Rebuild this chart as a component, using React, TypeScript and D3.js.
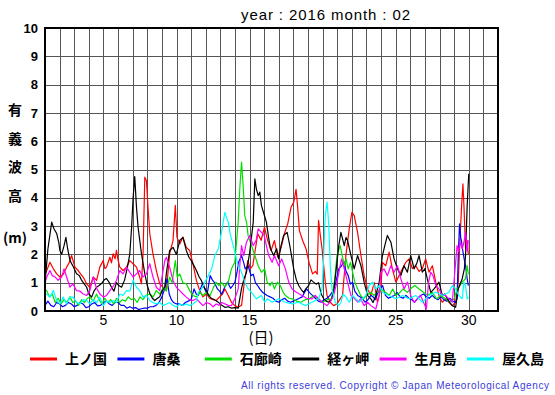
import React from 'react';
import * as d3 from 'd3';

type P = [number, number];

const titleText = 'year : 2016   month : 02';
const xTickValues = [5, 10, 15, 20, 25, 30];
const yTickValues = [0, 1, 2, 3, 4, 5, 6, 7, 8, 9, 10];
const yTitleChars = ['有', '義', '波', '高', '(m)'];
const xTitle = '(日)';
const footerText = 'All rights reserved. Copyright © Japan Meteorological Agency';
const stationNames = ['上ノ国', '唐桑', '石廊崎', '経ヶ岬', '生月島', '屋久島'];
const stationColors = ['#ff0000', '#0000ff', '#00e000', '#000000', '#ff00ff', '#00ffff'];

const kaminokuni: P[] = [[1.0,1.3],[1.12,1.43],[1.34,1.72],[1.57,1.49],[1.8,1.31],[2.02,1.2],[2.25,1.3],[2.48,1.55],[2.65,1.7],[2.82,1.96],[3.05,1.55],[3.27,1.43],[3.45,1.3],[3.61,1.2],[3.85,0.96],[4.07,0.84],[4.3,1.2],[4.53,1.08],[4.75,1.55],[4.98,1.78],[5.1,1.5],[5.21,1.55],[5.44,1.9],[5.55,1.7],[5.66,2.02],[5.8,1.85],[5.89,2.14],[6.0,1.8],[6.12,1.55],[6.34,1.43],[6.58,1.55],[6.8,1.78],[7.03,1.67],[7.26,1.55],[7.48,1.2],[7.6,0.96],[7.71,2.02],[7.83,4.73],[7.94,4.6],[8.05,3.67],[8.17,2.73],[8.39,2.02],[8.62,1.43],[8.85,0.96],[9.08,0.84],[9.31,0.73],[9.53,2.02],[9.76,2.49],[9.92,3.73],[10.03,2.61],[10.22,2.37],[10.44,2.61],[10.67,2.25],[10.9,2.14],[11.12,1.67],[11.36,1.08],[11.58,0.73],[11.81,0.5],[12.05,0.6],[12.26,0.45],[12.5,0.4],[12.72,0.37],[12.95,0.5],[13.15,0.6],[13.31,0.78],[13.54,0.55],[13.76,0.31],[13.99,0.19],[14.22,0.13],[14.45,0.2],[14.66,1.08],[14.88,1.78],[15.05,1.5],[15.22,1.6],[15.4,2.2],[15.56,2.73],[15.79,2.5],[16.02,2.96],[16.24,2.49],[16.47,2.14],[16.7,2.49],[16.93,1.9],[17.16,2.25],[17.38,2.73],[17.61,3.08],[17.84,3.67],[18.02,3.84],[18.18,4.3],[18.29,3.67],[18.41,2.84],[18.63,2.49],[18.86,2.2],[19.09,1.67],[19.31,1.31],[19.5,1.4],[19.63,1.3],[19.72,3.2],[19.84,2.67],[19.96,2.2],[20.07,1.6],[20.18,1.02],[20.3,0.55],[20.52,0.31],[20.75,0.19],[20.98,0.25],[21.2,0.43],[21.36,0.55],[21.59,1.96],[21.82,2.9],[22.0,3.49],[22.16,3.37],[22.39,2.78],[22.62,1.96],[22.84,1.25],[23.07,0.78],[23.3,0.55],[23.53,1.0],[23.75,0.31],[23.98,0.78],[24.09,1.72],[24.32,1.6],[24.55,2.08],[24.77,1.49],[25.01,1.02],[25.23,1.25],[25.46,1.49],[25.69,1.72],[25.91,1.84],[26.14,1.5],[26.37,1.6],[26.6,1.4],[26.82,1.5],[27.05,1.84],[27.28,1.37],[27.51,1.6],[27.74,1.02],[27.96,0.55],[28.19,0.31],[28.42,0.43],[28.65,0.31],[28.87,0.19],[29.1,0.31],[29.28,1.02],[29.37,2.2],[29.51,3.73],[29.6,4.49],[29.67,3.73],[29.78,2.2],[29.89,2.5],[29.97,2.0]];

const karakuwa: P[] = [[1.0,0.2],[1.2,0.35],[1.4,0.2],[1.6,0.15],[1.8,0.3],[2.0,0.25],[2.2,0.15],[2.4,0.2],[2.6,0.3],[2.8,0.25],[3.0,0.15],[3.2,0.2],[3.4,0.3],[3.6,0.25],[3.8,0.12],[4.0,0.15],[4.2,0.25],[4.4,0.3],[4.6,0.18],[4.8,0.2],[5.0,0.3],[5.2,0.35],[5.4,0.25],[5.6,0.2],[5.8,0.3],[6.0,0.3],[6.2,0.2],[6.4,0.2],[6.6,0.1],[6.8,0.15],[7.0,0.1],[7.2,0.12],[7.4,0.05],[7.6,0.08],[7.8,0.1],[8.0,0.1],[8.2,0.15],[8.4,0.15],[8.6,0.2],[8.8,0.3],[9.0,0.5],[9.2,0.8],[9.35,1.14],[9.5,0.6],[9.65,0.4],[9.8,0.3],[10.0,0.25],[10.2,0.25],[10.4,0.2],[10.6,0.3],[10.8,0.35],[11.0,0.4],[11.2,0.78],[11.35,0.6],[11.5,0.55],[11.65,0.8],[11.8,1.0],[11.95,0.75],[12.1,0.6],[12.3,1.25],[12.45,1.1],[12.6,1.0],[12.8,0.78],[12.95,0.7],[13.1,0.6],[13.3,0.85],[13.5,1.02],[13.7,0.8],[13.85,0.9],[14.0,1.02],[14.15,1.4],[14.25,1.72],[14.45,1.96],[14.6,1.7],[14.7,1.49],[14.9,1.6],[15.1,1.25],[15.25,1.3],[15.4,1.0],[15.55,0.9],[15.7,0.78],[15.9,0.65],[16.05,0.6],[16.2,0.55],[16.4,0.5],[16.6,0.45],[16.8,0.35],[17.0,0.31],[17.2,0.4],[17.4,0.45],[17.6,0.35],[17.8,0.31],[18.0,0.35],[18.2,0.4],[18.4,0.45],[18.6,0.5],[18.75,0.65],[18.9,0.78],[19.1,0.65],[19.3,0.55],[19.5,0.45],[19.7,0.35],[19.9,0.31],[20.1,0.4],[20.3,0.45],[20.5,0.55],[20.7,0.7],[20.9,1.0],[21.1,1.49],[21.3,1.6],[21.45,1.75],[21.6,1.4],[21.75,1.25],[21.9,0.95],[22.05,1.02],[22.2,0.7],[22.4,0.55],[22.55,0.5],[22.7,0.45],[22.9,0.31],[23.1,0.4],[23.3,0.55],[23.45,0.5],[23.6,0.4],[23.75,0.6],[23.9,0.78],[24.1,0.9],[24.3,0.55],[24.5,0.45],[24.7,0.5],[24.9,0.55],[25.1,0.65],[25.3,0.5],[25.5,0.45],[25.7,0.55],[25.9,0.45],[26.1,0.4],[26.3,0.31],[26.5,0.45],[26.7,0.55],[26.9,0.6],[27.1,0.5],[27.3,0.45],[27.5,0.55],[27.7,0.45],[27.9,0.4],[28.1,0.5],[28.3,0.4],[28.5,0.35],[28.7,0.45],[28.9,0.35],[29.1,0.3],[29.2,0.45],[29.28,1.96],[29.37,3.08],[29.45,2.6],[29.51,2.43],[29.6,2.1],[29.7,1.8],[29.78,1.6],[29.89,1.14],[29.97,0.9]];

const irozaki: P[] = [[1.0,0.72],[1.12,0.72],[1.3,0.5],[1.5,0.6],[1.7,0.3],[1.9,0.45],[2.1,0.25],[2.3,0.4],[2.5,0.3],[2.7,0.5],[2.9,0.3],[3.1,0.35],[3.3,0.2],[3.5,0.4],[3.7,0.3],[3.9,0.45],[4.07,0.49],[4.3,0.35],[4.53,0.6],[4.7,0.4],[4.9,0.25],[5.1,0.45],[5.3,0.3],[5.5,0.4],[5.7,0.25],[5.9,0.45],[6.1,0.3],[6.3,0.4],[6.5,0.35],[6.7,0.5],[6.9,0.4],[7.1,0.45],[7.3,0.3],[7.5,0.5],[7.7,0.4],[7.9,0.55],[8.17,0.6],[8.4,0.5],[8.62,0.72],[8.85,0.6],[9.1,0.84],[9.3,0.7],[9.53,1.2],[9.7,1.0],[9.92,1.78],[10.05,1.2],[10.22,1.31],[10.44,1.0],[10.67,0.96],[10.9,0.72],[11.12,0.55],[11.36,0.5],[11.6,0.66],[11.8,0.55],[12.04,0.66],[12.3,0.55],[12.5,0.8],[12.7,1.02],[12.9,0.9],[13.1,1.0],[13.3,0.85],[13.54,1.02],[13.76,1.49],[13.99,1.72],[14.22,3.14],[14.33,4.32],[14.45,5.26],[14.56,4.43],[14.67,3.37],[14.79,3.14],[14.9,2.67],[15.13,2.31],[15.36,1.96],[15.59,1.6],[15.81,1.37],[16.04,1.49],[16.2,1.02],[16.4,0.9],[16.54,1.02],[16.7,0.78],[16.9,1.02],[17.1,0.9],[17.3,0.66],[17.45,0.55],[17.7,0.45],[17.91,0.43],[18.2,0.35],[18.5,0.31],[18.8,0.4],[19.1,0.43],[19.4,0.55],[19.7,0.43],[20.0,0.31],[20.3,0.4],[20.6,0.43],[20.8,1.0],[20.98,1.96],[21.2,2.31],[21.36,1.9],[21.5,1.6],[21.6,1.84],[21.75,1.49],[21.9,1.72],[22.05,1.37],[22.2,1.02],[22.4,0.78],[22.6,0.55],[22.8,0.43],[23.0,0.55],[23.3,0.66],[23.5,0.55],[23.75,0.66],[24.0,0.78],[24.3,0.66],[24.55,0.55],[24.8,0.78],[25.0,0.55],[25.3,0.66],[25.5,0.78],[25.8,0.66],[26.0,0.78],[26.3,0.9],[26.6,0.78],[26.9,0.66],[27.2,0.55],[27.5,0.66],[27.8,0.43],[28.1,0.55],[28.4,0.43],[28.7,0.31],[29.0,0.43],[29.2,0.78],[29.4,0.9],[29.55,1.02],[29.78,1.14],[29.89,1.6],[29.97,1.3]];

const kyogamisaki: P[] = [[1.0,0.96],[1.2,2.2],[1.46,3.14],[1.62,2.9],[1.8,2.74],[1.95,2.4],[2.02,2.14],[2.14,2.0],[2.3,2.3],[2.43,2.6],[2.55,2.2],[2.71,1.78],[2.93,1.57],[3.16,1.32],[3.35,1.25],[3.51,1.08],[3.7,0.95],[3.85,0.84],[4.0,0.6],[4.19,0.49],[4.35,0.7],[4.53,0.84],[4.7,0.9],[4.87,0.97],[5.05,1.1],[5.21,1.15],[5.4,1.0],[5.55,0.84],[5.72,0.7],[5.89,1.0],[6.05,0.9],[6.24,0.84],[6.45,1.1],[6.62,1.5],[6.8,2.0],[6.92,2.9],[7.03,4.0],[7.14,4.75],[7.26,3.67],[7.37,2.96],[7.6,2.03],[7.83,1.32],[8.0,0.9],[8.17,0.62],[8.35,0.45],[8.51,0.37],[8.7,0.45],[8.85,0.5],[9.0,0.7],[9.19,0.84],[9.35,1.5],[9.53,2.14],[9.76,2.25],[9.99,2.0],[10.22,2.49],[10.44,2.6],[10.67,2.14],[10.85,1.9],[11.01,1.78],[11.2,1.6],[11.36,1.43],[11.55,1.2],[11.7,1.08],[11.87,0.85],[12.04,0.72],[12.2,0.55],[12.4,0.44],[12.6,0.4],[12.86,0.31],[13.1,0.2],[13.31,0.13],[13.55,0.15],[13.76,0.1],[14.0,0.12],[14.22,0.1],[14.45,0.8],[14.6,1.1],[14.79,1.37],[15.01,2.08],[15.25,3.14],[15.36,4.67],[15.47,4.3],[15.59,4.08],[15.7,4.2],[15.81,3.73],[16.0,3.4],[16.15,3.14],[16.3,2.6],[16.43,2.2],[16.65,1.96],[16.85,2.2],[16.99,1.84],[17.15,2.3],[17.33,2.67],[17.57,2.78],[17.68,2.5],[17.79,2.2],[18.02,1.49],[18.2,1.1],[18.36,0.9],[18.55,0.75],[18.7,0.66],[18.87,0.8],[19.04,0.9],[19.2,1.1],[19.38,1.02],[19.55,0.95],[19.72,1.0],[19.9,0.6],[20.07,0.43],[20.25,0.35],[20.41,0.31],[20.6,0.4],[20.75,0.66],[20.98,1.72],[21.1,2.3],[21.25,2.78],[21.48,2.31],[21.6,2.6],[21.7,2.5],[21.94,1.96],[22.16,1.49],[22.39,1.96],[22.62,1.6],[22.84,1.02],[23.07,0.55],[23.3,0.43],[23.45,0.3],[23.64,0.55],[23.87,1.02],[24.09,1.96],[24.25,2.3],[24.43,2.67],[24.67,2.43],[24.89,1.84],[25.12,1.49],[25.35,1.25],[25.57,1.6],[25.8,1.37],[26.03,1.96],[26.26,1.49],[26.45,1.7],[26.6,1.96],[26.82,1.37],[27.0,1.5],[27.16,1.14],[27.4,0.66],[27.62,0.78],[27.8,0.9],[27.96,1.02],[28.19,0.55],[28.35,0.6],[28.53,0.43],[28.7,0.3],[28.87,0.19],[29.1,0.13],[29.28,0.78],[29.55,1.14],[29.7,1.5],[29.78,1.96],[29.89,3.73],[30.0,4.85]];

const ikitsukishima: P[] = [[1.0,1.0],[1.12,1.2],[1.34,1.43],[1.5,1.25],[1.7,1.2],[1.9,1.08],[2.14,1.2],[2.3,1.49],[2.48,1.2],[2.71,0.84],[2.9,0.96],[3.16,0.72],[3.4,0.7],[3.61,0.6],[3.85,0.55],[4.07,0.72],[4.3,1.2],[4.5,0.84],[4.75,0.6],[5.0,0.49],[5.21,0.55],[5.44,0.72],[5.7,0.9],[5.89,1.08],[6.12,1.43],[6.34,1.31],[6.58,1.55],[6.8,1.37],[7.03,1.2],[7.26,1.31],[7.48,1.43],[7.7,1.2],[7.94,1.31],[8.17,1.67],[8.39,1.2],[8.62,0.84],[8.85,0.72],[9.08,1.43],[9.2,1.78],[9.31,1.9],[9.53,1.55],[9.76,1.08],[9.99,0.84],[10.22,0.72],[10.44,0.6],[10.67,0.49],[10.9,0.4],[11.12,0.37],[11.36,0.43],[11.6,0.3],[11.81,0.19],[12.04,0.3],[12.3,0.25],[12.5,0.15],[12.72,0.25],[12.9,0.2],[13.1,0.3],[13.31,0.25],[13.54,0.2],[13.76,0.19],[13.99,0.43],[14.22,0.78],[14.33,1.6],[14.45,2.31],[14.6,1.96],[14.79,2.43],[15.01,2.67],[15.25,2.31],[15.45,2.5],[15.59,2.9],[15.81,2.78],[16.0,2.67],[16.15,2.31],[16.31,1.96],[16.54,1.72],[16.7,1.96],[16.99,1.6],[17.2,1.84],[17.45,1.49],[17.68,1.02],[17.91,0.78],[18.2,0.66],[18.59,0.55],[18.9,0.45],[19.27,0.43],[19.5,0.55],[19.96,0.31],[20.3,0.19],[20.5,0.31],[20.75,0.55],[20.98,1.02],[21.2,1.6],[21.3,1.84],[21.48,1.49],[21.7,1.02],[21.94,0.55],[22.2,0.43],[22.4,0.31],[22.6,0.43],[22.84,0.19],[23.07,0.31],[23.3,0.19],[23.64,0.07],[23.87,0.55],[23.98,1.37],[24.2,1.49],[24.43,1.25],[24.67,1.6],[24.89,1.37],[25.12,1.6],[25.35,1.14],[25.57,0.78],[25.8,1.02],[26.03,0.55],[26.26,0.31],[26.5,0.43],[26.7,0.55],[26.9,0.31],[27.1,0.07],[27.25,1.02],[27.4,1.37],[27.55,1.25],[27.75,0.9],[27.96,0.78],[28.2,0.55],[28.4,0.55],[28.65,0.43],[28.87,0.31],[29.1,1.72],[29.2,2.31],[29.3,2.1],[29.4,2.43],[29.55,2.2],[29.67,2.43],[29.78,2.78],[29.89,2.1],[29.97,2.5]];

const yakushima: P[] = [[1.0,0.6],[1.12,0.6],[1.34,0.49],[1.57,0.72],[1.8,0.37],[2.02,0.25],[2.25,0.49],[2.48,0.25],[2.71,0.49],[2.93,0.49],[3.16,0.3],[3.39,0.25],[3.61,0.4],[3.85,0.37],[4.07,0.25],[4.3,0.4],[4.53,0.3],[4.75,0.49],[4.98,0.19],[5.21,0.35],[5.44,0.3],[5.66,0.37],[5.89,0.3],[6.12,0.6],[6.34,0.55],[6.58,0.72],[6.8,0.7],[7.03,1.08],[7.26,0.84],[7.48,0.72],[7.71,0.49],[7.94,0.55],[8.17,0.37],[8.39,0.3],[8.62,0.25],[8.85,0.3],[9.08,0.19],[9.31,0.25],[9.53,0.3],[9.76,0.2],[9.99,0.14],[10.22,0.25],[10.44,0.2],[10.67,0.25],[10.9,0.19],[11.12,0.25],[11.36,0.35],[11.49,0.66],[11.72,0.78],[11.94,1.02],[12.18,1.25],[12.4,1.49],[12.62,1.96],[12.86,2.2],[13.08,2.78],[13.31,3.49],[13.42,3.3],[13.54,3.14],[13.65,2.78],[13.76,2.55],[13.99,2.08],[14.22,1.6],[14.45,1.37],[14.67,1.02],[14.9,0.78],[15.13,0.66],[15.47,0.43],[15.81,0.55],[16.04,0.31],[16.23,0.43],[16.54,0.31],[16.99,0.43],[17.45,0.31],[17.91,0.25],[18.36,0.31],[18.82,0.19],[19.27,0.31],[19.72,0.43],[19.96,0.78],[20.07,1.96],[20.18,3.37],[20.3,3.85],[20.41,3.14],[20.52,1.6],[20.64,0.78],[20.86,0.31],[21.09,0.19],[21.25,0.3],[21.4,0.6],[21.59,0.5],[21.82,0.31],[22.05,0.55],[22.5,0.31],[22.95,0.55],[23.18,0.9],[23.4,1.02],[23.64,0.78],[23.87,0.9],[24.09,0.66],[24.55,0.55],[25.01,0.43],[25.46,0.55],[25.91,0.43],[26.37,0.55],[26.82,0.31],[27.28,0.55],[27.74,0.66],[28.19,0.55],[28.65,0.66],[28.87,0.9],[29.1,0.78],[29.32,0.55],[29.55,0.43],[29.67,1.02],[29.78,0.9],[29.89,0.43],[29.97,0.5]];

const seriesData: P[][] = [kaminokuni, karakuwa, irozaki, kyogamisaki, ikitsukishima, yakushima];

const numFont = "'Liberation Sans', Arial, Helvetica, sans-serif";
const cjkFont = "'Noto Sans CJK JP', 'Noto Sans', sans-serif";

export default function App() {
  const x = d3.scaleLinear().domain([1, 32]).range([45, 498]);
  const y = d3.scaleLinear().domain([0, 10]).range([311, 28]);
  const line = d3.line<P>().x((d) => x(d[0])).y((d) => y(d[1]));
  const dayGrid = d3.range(2, 32);
  const valGrid = d3.range(1, 10);
  const px = (v: number) => Math.round(v) + 0.5;
  const yTitleY = [110, 139, 167, 196, 238];

  return (
    <svg width={555} height={395} style={{ position: 'absolute', left: 0, top: 0, background: '#fff' }}>
      <defs>
        <clipPath id="plotClip">
          <rect x={x(1)} y={y(10)} width={x(32) - x(1)} height={y(0) - y(10)} />
        </clipPath>
      </defs>
      <rect x={0} y={0} width={555} height={395} fill="#fff" />
      <text x={241} y={20} fontFamily={numFont} fontSize={15} textLength={169} lengthAdjust="spacing" fill="#000">
        {titleText}
      </text>
      <g stroke="#555" strokeWidth={1} shapeRendering="crispEdges">
        {dayGrid.map((d) => (
          <line key={'v' + d} x1={px(x(d))} x2={px(x(d))} y1={y(10)} y2={y(0)} />
        ))}
        {valGrid.map((v) => (
          <line key={'h' + v} x1={x(1)} x2={x(32)} y1={px(y(v))} y2={px(y(v))} />
        ))}
      </g>
      <g clipPath="url(#plotClip)" fill="none" strokeWidth={1.2} strokeLinejoin="round">
        {seriesData.map((s, i) => (
          <path key={stationNames[i]} d={line(s) || ''} stroke={stationColors[i]} />
        ))}
      </g>
      <rect x={x(1)} y={y(10)} width={x(32) - x(1)} height={y(0) - y(10)} fill="none" stroke="#000" strokeWidth={2} />
      {yTickValues.map((v) => (
        <text key={'yt' + v} x={38} y={y(v)} dy="0.36em" textAnchor="end" fontFamily={numFont} fontWeight="bold" fontSize={13}>
          {v}
        </text>
      ))}
      {xTickValues.map((v) => (
        <text key={'xt' + v} x={x(v)} y={325} textAnchor="middle" fontFamily={numFont} fontSize={14}>
          {v}
        </text>
      ))}
      <text x={261} y={343} textAnchor="middle" fontFamily={cjkFont} fontSize={15}>
        {xTitle}
      </text>
      {yTitleChars.map((c, i) => (
        <text key={'yc' + i} x={15} y={yTitleY[i]} dy="0.36em" textAnchor="middle" fontFamily={cjkFont} fontWeight="bold" fontSize={14}>
          {c}
        </text>
      ))}
      {stationNames.map((n, i) => {
        const x0 = 30 + i * 87.4;
        return (
          <g key={'lg' + i}>
            <line x1={x0} x2={x0 + 27} y1={359} y2={359} stroke={stationColors[i]} strokeWidth={3} />
            <text x={x0 + 35} y={359} dy="0.36em" fontFamily={cjkFont} fontWeight="bold" fontSize={14}>
              {n}
            </text>
          </g>
        );
      })}
      <text x={241} y={389} fontFamily={numFont} fontSize={10} fill="#3c3cdc" textLength={308} lengthAdjust="spacing">
        {footerText}
      </text>
    </svg>
  );
}
